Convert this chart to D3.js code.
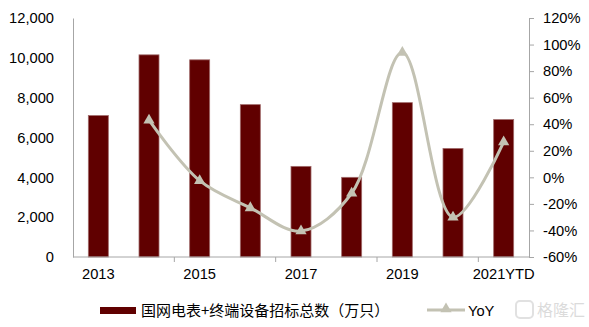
<!DOCTYPE html>
<html><head><meta charset="utf-8">
<script src="https://cdn.jsdelivr.net/npm/d3@7"></script>
<style>
html,body{margin:0;padding:0;background:#fff;}
svg{display:block;font-family:"Liberation Sans",Arial,sans-serif;}
</style></head>
<body>
<svg id="c" width="589" height="327"></svg>
<script>
const categories = ["2013","2014","2015","2016","2017","2018","2019","2020","2021YTD"];
const bidTotal = [7100, 10150, 9900, 7650, 4550, 4000, 7750, 5450, 6900];
const yoy = [null, 43, -2.5, -23, -40.5, -12, 94, -30, 26.6];
const leftTicks = [0, 2000, 4000, 6000, 8000, 10000, 12000];
const rightTicks = [-60, -40, -20, 0, 20, 40, 60, 80, 100, 120];
const xLabels = ["2013","2015","2017","2019","2021YTD"];
const seriesNames = ["国网电表+终端设备招标总数（万只）", "YoY"];

const svg = d3.select("#c");
const L = 73, R = 529, T = 18, B = 257;
const x = d3.scaleBand().domain(categories).range([L, R]).paddingInner(0).paddingOuter(0);
const yL = d3.scaleLinear().domain([0, 12000]).range([B, T]);
const yR = d3.scaleLinear().domain([-60, 120]).range([B, T]);
const fs = "14.7px";
const axisCol = "#a6a6a6";

// bars
const bw = 20;
svg.append("g").selectAll("rect").data(categories).join("rect")
  .attr("x", d => x(d) + x.bandwidth()/2 - bw/2)
  .attr("y", (d,i) => yL(bidTotal[i]))
  .attr("width", bw)
  .attr("height", (d,i) => B - yL(bidTotal[i]))
  .attr("fill", "#600000")
  .attr("stroke", "#a06a6a").attr("stroke-width", 0.8);

// left axis
const gl = svg.append("g").attr("transform", `translate(${L},0)`)
  .call(d3.axisLeft(yL).tickValues(leftTicks).tickSize(0).tickPadding(19).tickFormat(d3.format(",")));
gl.select(".domain").attr("stroke", axisCol);
gl.selectAll("text").attr("font-size", fs).attr("fill", "#000").attr("font-family", "Liberation Sans, Arial, sans-serif");

// right axis
const gr = svg.append("g").attr("transform", `translate(${R},0)`)
  .call(d3.axisRight(yR).tickValues(rightTicks).tickSize(5).tickPadding(9).tickFormat(d => d + "%"));
gr.select(".domain").attr("stroke", axisCol);
gr.selectAll("line").attr("stroke", axisCol);
gr.selectAll("text").attr("font-size", fs).attr("fill", "#000").attr("font-family", "Liberation Sans, Arial, sans-serif");

// bottom axis
const gb = svg.append("g").attr("transform", `translate(0,${B})`);
gb.append("line").attr("x1", L).attr("x2", R).attr("stroke", axisCol);
const tickPos = [0, 2, 4, 6, 8].map(i => x(categories[i])).concat([x(categories[8]) + x.bandwidth()]);
gb.selectAll(".tk").data([2,4,6,8]).join("line")
  .attr("x1", i => x(categories[i])).attr("x2", i => x(categories[i]))
  .attr("y1", 0).attr("y2", 5).attr("stroke", axisCol);
gb.selectAll("text").data(xLabels).join("text")
  .attr("x", d => x(d) + x.bandwidth()/2).attr("y", 22)
  .attr("text-anchor", "middle").attr("font-size", fs).text(d => d);

// yoy line
const lineColor = "#c3c2b3";
const pts = categories.map((c,i) => ({c, v: yoy[i]})).filter(p => p.v !== null);
const line = d3.line().x(p => x(p.c) + x.bandwidth()/2).y(p => yR(p.v)).curve(d3.curveCatmullRom.alpha(0.5));
svg.append("path").datum(pts).attr("d", line).attr("fill", "none")
  .attr("stroke", lineColor).attr("stroke-width", 3);
const tri = d3.symbol().type(d3.symbolTriangle).size(55);
svg.append("g").selectAll("path").data(pts).join("path")
  .attr("d", tri)
  .attr("transform", p => `translate(${x(p.c) + x.bandwidth()/2},${yR(p.v)})`)
  .attr("fill", lineColor);

// legend
const lg = svg.append("g");
lg.append("rect").attr("x", 100).attr("y", 307).attr("width", 36).attr("height", 7).attr("fill", "#600000");
lg.append("text").attr("x", 141).attr("y", 316).attr("font-size", "15px")
  .attr("font-family", "Noto Sans CJK SC, sans-serif").text(seriesNames[0]);
lg.append("line").attr("x1", 427).attr("x2", 465).attr("y1", 310).attr("y2", 310)
  .attr("stroke", lineColor).attr("stroke-width", 3);
lg.append("path").attr("d", tri).attr("transform", "translate(446,309)").attr("fill", lineColor);
lg.append("text").attr("x", 468).attr("y", 316).attr("font-size", fs).text(seriesNames[1]);

// watermark
const wm = svg.append("g").attr("opacity", 0.35);
wm.append("rect").attr("x", 516).attr("y", 301).attr("width", 17).attr("height", 17).attr("rx", 4)
  .attr("fill", "none").attr("stroke", "#aaa").attr("stroke-width", 2);
wm.append("text").attr("x", 537).attr("y", 316).attr("font-size", "16px").attr("fill", "#999")
  .attr("font-family", "Noto Sans CJK SC, sans-serif").text("格隆汇");
</script>
</body></html>
